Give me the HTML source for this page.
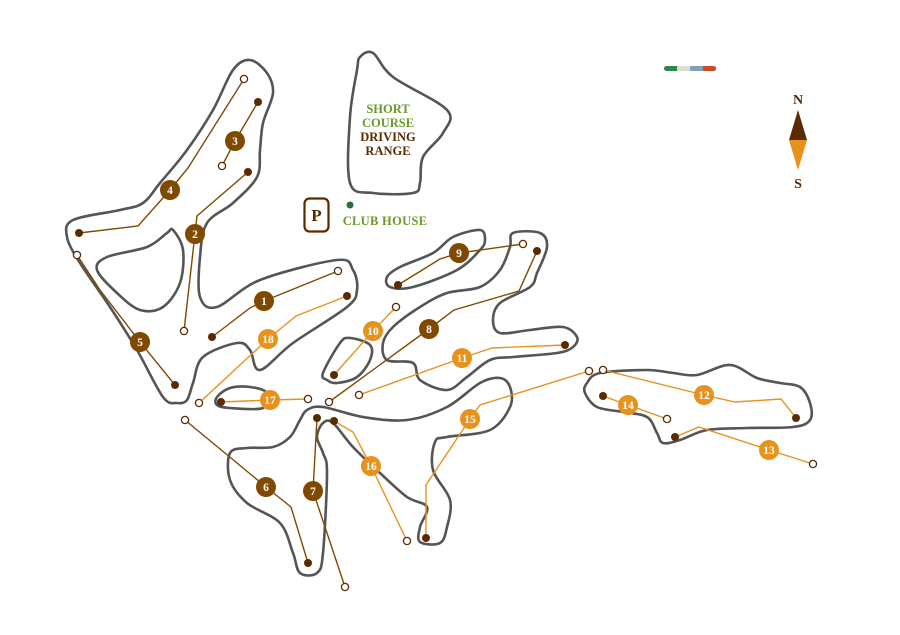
<!DOCTYPE html>
<html><head><meta charset="utf-8"><style>
html,body{margin:0;padding:0;background:#fff;width:900px;height:635px;overflow:hidden}
svg text{font-family:"Liberation Serif",serif;font-weight:bold}
</style></head><body>
<svg id="s" width="900" height="635" viewBox="0 0 900 635" xmlns="http://www.w3.org/2000/svg">
<g id="outlines" fill="none" stroke="#555" stroke-width="2.6" stroke-linejoin="round"></g>
<g id="lines" fill="none" stroke-width="1.4"></g>
<g id="dots"></g>
<g id="badges"></g>
<rect x="304.5" y="198.5" width="24" height="33" rx="5" fill="#fff" stroke="#5a2a00" stroke-width="2.2"/>
<text x="316.5" y="221" text-anchor="middle" font-size="17" fill="#5a2a00">P</text>
<circle cx="350" cy="205" r="3.5" fill="#2e6b3a"/>
<text x="385" y="225" text-anchor="middle" font-size="12.5" fill="#6a9a2a" letter-spacing="0.3">CLUB HOUSE</text>
<text x="388" y="113" text-anchor="middle" font-size="12.5" fill="#6a9a2a">SHORT</text>
<text x="388" y="127" text-anchor="middle" font-size="12.5" fill="#6a9a2a">COURSE</text>
<text x="388" y="141" text-anchor="middle" font-size="12.5" fill="#5a2a00">DRIVING</text>
<text x="388" y="155" text-anchor="middle" font-size="12.5" fill="#5a2a00">RANGE</text>
<g>
<rect x="664" y="66" width="52" height="5" rx="2.5" fill="#2a8a4e"/>
<rect x="677" y="66" width="13" height="5" fill="#ddddd0"/>
<rect x="690" y="66" width="13" height="5" fill="#7fa3b5"/>
<rect x="703" y="66" width="13" height="5" rx="2.5" fill="#cc4a25"/>
<rect x="703" y="66" width="6" height="5" fill="#cc4a25"/>
</g>
<text x="798" y="104" text-anchor="middle" font-size="14" fill="#5a2a00">N</text>
<polygon points="798,110 789,140 807,140" fill="#5a2a00"/>
<polygon points="789,140 807,140 798,170" fill="#e8921e"/>
<text x="798" y="188" text-anchor="middle" font-size="14" fill="#5a2a00">S</text>
</svg>
<script>
var NS="http://www.w3.org/2000/svg";
function cr(p){var n=p.length,d="M"+p[0][0]+","+p[0][1];
for(var i=0;i<n;i++){var p0=p[(i-1+n)%n],p1=p[i],p2=p[(i+1)%n],p3=p[(i+2)%n];
d+=" C"+(p1[0]+(p2[0]-p0[0])/6)+","+(p1[1]+(p2[1]-p0[1])/6)+" "+(p2[0]-(p3[0]-p1[0])/6)+","+(p2[1]-(p3[1]-p1[1])/6)+" "+p2[0]+","+p2[1];}
return d+"Z";}
function el(t,a,par){var e=document.createElementNS(NS,t);for(var k in a)e.setAttribute(k,a[k]);document.getElementById(par).appendChild(e);return e;}
var shapes=[
[[250,60],[267,73],[273,93],[263,123],[260,150],[257,177],[233,203],[207,223],[200,257],[200,297],[217,307],[260,280],[337,260],[353,270],[357,290],[347,307],[293,343],[260,370],[250,350],[237,343],[203,357],[193,383],[187,400],[177,403],[163,397],[137,350],[110,307],[80,263],[67,237],[73,220],[120,210],[143,203],[160,183],[187,150],[213,110],[233,70]],
[[173,230],[183,250],[180,283],[163,307],[140,310],[117,293],[97,270],[107,257],[147,247],[167,233]],
[[360,57],[373,53],[393,77],[447,110],[443,133],[423,157],[420,183],[413,193],[373,193],[350,183],[350,117],[357,70]],
[[390,287],[387,277],[400,267],[433,253],[453,237],[480,230],[485,240],[480,250],[457,270],[413,287]],
[[327,380],[323,373],[340,343],[350,338],[370,345],[370,360],[357,377],[337,383]],
[[217,405],[217,397],[230,388],[250,387],[267,393],[263,408],[230,408]],
[[513,233],[540,233],[547,247],[537,273],[530,287],[500,303],[493,320],[500,333],[530,330],[563,327],[577,337],[573,347],[557,353],[513,357],[490,360],[467,377],[447,390],[420,380],[413,363],[387,360],[383,343],[393,327],[420,307],[447,293],[480,287],[500,270],[510,247]],
[[307,410],[323,407],[363,417],[407,420],[447,407],[480,383],[500,378],[510,387],[510,407],[490,430],[447,437],[435,442],[433,470],[450,500],[447,527],[440,543],[420,542],[420,527],[427,507],[407,497],[380,473],[353,447],[333,423],[323,423],[317,437],[323,453],[327,473],[323,553],[317,573],[300,573],[293,553],[280,523],[247,503],[230,480],[230,453],[247,448],[273,447],[290,437],[300,420]],
[[587,383],[600,373],[647,370],[673,373],[697,375],[730,365],[757,378],[780,383],[800,387],[810,403],[810,420],[793,427],[747,428],[707,430],[680,440],[663,443],[657,433],[647,417],[623,412],[597,407],[585,393]]
];
shapes.forEach(function(s){el("path",{d:cr(s)},"outlines");});
var B="#7f4a00",O="#e8921e",D="#5a2a00";
var holes=[
[1,B,[[212,337],[250,308],[264,301],[338,271]],[264,301],[338,271],[212,337]],
[2,B,[[184,331],[195,234],[197,216],[248,172]],[195,234],[184,331],[248,172]],
[3,B,[[222,166],[235,141],[258,102]],[235,141],[222,166],[258,102]],
[4,B,[[244,79],[188,168],[170,190],[138,226],[79,233]],[170,190],[244,79],[79,233]],
[5,B,[[77,255],[100,290],[140,342],[175,385]],[140,342],[77,255],[175,385]],
[6,B,[[185,420],[266,487],[291,507],[308,563]],[266,487],[185,420],[308,563]],
[7,B,[[317,418],[313,491],[345,587]],[313,491],[345,587],[317,418]],
[8,B,[[329,402],[429,329],[454,310],[519,291],[537,251]],[429,329],[329,402],[537,251]],
[9,B,[[398,285],[440,259],[459,253],[523,244]],[459,253],[523,244],[398,285]],
[10,O,[[334,375],[373,331],[396,307]],[373,331],[396,307],[334,375]],
[11,O,[[359,395],[462,358],[492,348],[565,345]],[462,358],[359,395],[565,345]],
[12,O,[[603,370],[704,395],[735,402],[781,399],[796,418]],[704,395],[603,370],[796,418]],
[13,O,[[675,437],[699,427],[769,450],[813,464]],[769,450],[813,464],[675,437]],
[14,O,[[603,396],[628,405],[667,419]],[628,405],[667,419],[603,396]],
[15,O,[[589,371],[480,405],[470,419],[426,485],[426,538]],[470,419],[589,371],[426,538]],
[16,O,[[334,421],[353,432],[371,466],[407,541]],[371,466],[407,541],[334,421]],
[17,O,[[221,402],[270,400],[308,399]],[270,400],[308,399],[221,402]],
[18,O,[[347,296],[296,316],[268,339],[199,403]],[268,339],[199,403],[347,296]]
];
holes.forEach(function(h){
 el("polyline",{points:h[2].map(function(p){return p.join(",")}).join(" "),stroke:h[1]},"lines");
 el("circle",{cx:h[4][0],cy:h[4][1],r:3.6,fill:"#fff",stroke:D,"stroke-width":1.3},"dots");
 el("circle",{cx:h[5][0],cy:h[5][1],r:4,fill:D},"dots");
 el("circle",{cx:h[3][0],cy:h[3][1],r:10,fill:h[1]},"badges");
 var t=el("text",{x:h[3][0],y:h[3][1]+4,"text-anchor":"middle","font-size":11.5,fill:"#fff"},"badges");
 t.textContent=h[0];
});
</script>
</body></html>
